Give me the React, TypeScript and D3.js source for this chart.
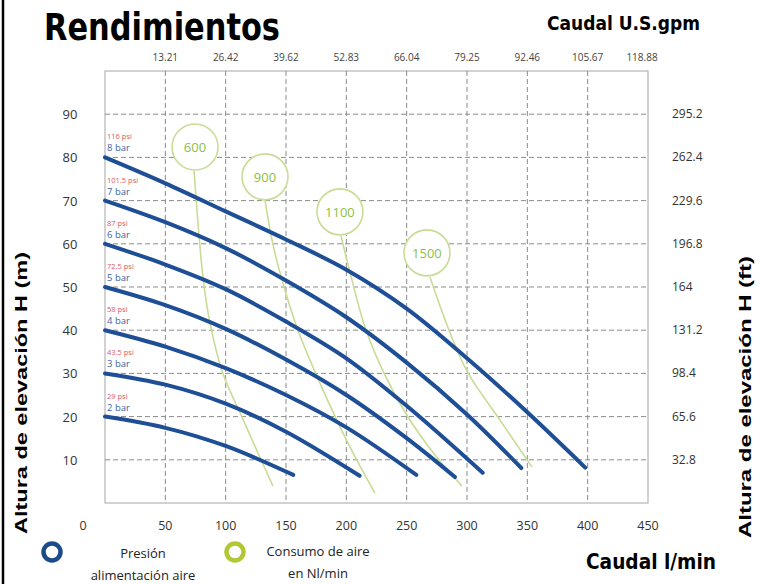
import React from 'react';
import * as d3 from 'd3';

// axis ticks
const flowTicks = [0, 50, 100, 150, 200, 250, 300, 350, 400, 450];
const gpmTicks = [50, 100, 150, 200, 250, 300, 350, 400, 450];
const gpmLabels = ['13.21', '26.42', '39.62', '52.83', '66.04', '79.25', '92.46', '105.67', '118.88'];
const headTicks = [10, 20, 30, 40, 50, 60, 70, 80, 90];
const headFtLabels = ['32.8', '65.6', '98.4', '131.2', '164', '196.8', '229.6', '262.4', '295.2'];

// pressure curves [l/min, m]
const pressureBar = ['8 bar', '7 bar', '6 bar', '5 bar', '4 bar', '3 bar', '2 bar'];
const pressurePsi = ['116 psi', '101.5 psi', '87 psi', '72.5 psi', '58 psi', '43.5 psi', '29 psi'];
const bar8 = [[0, 80], [50, 74], [100, 67.5], [150, 61], [200, 54], [250, 45], [300, 33.5], [350, 21], [398, 8.2]];
const bar7 = [[0, 70], [50, 65], [100, 59], [150, 51.5], [200, 43], [250, 32.5], [300, 20.5], [345, 8.1]];
const bar6 = [[0, 60], [50, 55.2], [100, 49.5], [150, 42], [200, 33.5], [250, 22.5], [313, 7]];
const bar5 = [[0, 50], [50, 45.8], [100, 40.3], [150, 33.2], [200, 25], [250, 15], [290, 6]];
const bar4 = [[0, 40], [50, 36.2], [100, 31.2], [150, 25], [200, 17.5], [258, 6.5]];
const bar3 = [[0, 30], [50, 27.4], [100, 23], [150, 16.5], [211, 6.3]];
const bar2 = [[0, 20], [50, 17.4], [100, 13.2], [156, 6.5]];
const pressureCurves = [bar8, bar7, bar6, bar5, bar4, bar3, bar2];

// air consumption curves (Nl/min)
const airLabels = ['600', '900', '1100', '1500'];
const airBubbles = [[74.6, 82.4], [132.6, 75.5], [194.7, 67.4], [266.8, 57.9]];
const air600 = [[73.8, 76.9], [81.2, 52.3], [87, 41.7], [97.8, 29.9], [113.5, 19.9], [128.4, 10.6], [139.2, 3.9]];
const air900 = [[132.6, 70.1], [138.4, 60.9], [146.7, 51.6], [159.9, 40], [180.6, 26.2], [203, 13], [223.7, 2.3]];
const air1100 = [[195.6, 61.8], [204.7, 51.6], [215.5, 40.7], [232, 29.6], [251.1, 19.9], [273.5, 11.1], [295.9, 3.9]];
const air1500 = [[269.3, 52.3], [285.9, 39.4], [300.8, 30.1], [327.3, 19.2], [353.9, 8.3]];
const airCurves = [air600, air900, air1100, air1500];

const W = 763;
const H = 584;
const x = d3.scaleLinear().domain([0, 450]).range([105, 648]);
const y = d3.scaleLinear().domain([0, 100]).range([503, 71]);

const smoothLine = d3
  .line<number[]>()
  .x(d => x(d[0]))
  .y(d => y(d[1]))
  .curve(d3.curveCatmullRom.alpha(0.5));

const BLUE = '#1e4f96';
const GREEN_LINE = '#c9dc95';
const GREEN_TEXT = '#8cc043';
const GRID = '#8a8a8a';
const num = "'Open Sans', 'DejaVu Sans', sans-serif";
const cond = "'Liberation Sans Narrow', 'DejaVu Sans Condensed', sans-serif";
const bold = "'Liberation Sans', Arial, sans-serif";

export default function App() {
  return (
    <svg
      width={W}
      height={H}
      style={{ position: 'absolute', left: 0, top: 0, background: '#fff' }}
    >
      <rect x={0} y={0} width={W} height={H} fill="#fff" />
      <line x1={3} x2={3} y1={0} y2={H} stroke="#000" strokeWidth={2.5} />

      {/* titles */}
      <text x={44} y={40} fontFamily={cond} fontWeight="bold" fontSize={37} textLength={236} lengthAdjust="spacingAndGlyphs">
        Rendimientos
      </text>
      <text x={547} y={30} fontFamily={cond} fontWeight="bold" fontSize={19} textLength={153} lengthAdjust="spacingAndGlyphs">
        Caudal U.S.gpm
      </text>
      <text x={586} y={569} fontFamily={cond} fontWeight="bold" fontSize={22} textLength={130} lengthAdjust="spacingAndGlyphs">
        Caudal l/min
      </text>

      {/* frame */}
      <rect x={x(0)} y={y(100)} width={x(450) - x(0)} height={y(0) - y(100)} fill="none" stroke="#b5b5b5" strokeWidth={1.2} />

      {/* grid */}
      {gpmTicks.slice(0, -1).map(q => (
        <line key={'gx' + q} x1={x(q)} x2={x(q)} y1={y(100)} y2={y(0)} stroke={GRID} strokeWidth={1} strokeDasharray="5,3" />
      ))}
      {headTicks.map(h => (
        <line key={'gy' + h} x1={x(0)} x2={x(450)} y1={y(h)} y2={y(h)} stroke={GRID} strokeWidth={1} strokeDasharray="5,3" />
      ))}

      {/* axis labels */}
      {flowTicks.map(q => (
        <text key={'bx' + q} x={q === 0 ? x(q) - 22 : x(q)} y={530} textAnchor="middle" fontFamily={num} fontSize={12.5} fill="#333">
          {q}
        </text>
      ))}
      {gpmTicks.map((q, i) => (
        <text key={'tx' + q} x={i === gpmTicks.length - 1 ? x(q) - 6 : x(q)} y={61} textAnchor="middle" fontFamily={num} fontSize={10} fill="#444">
          {gpmLabels[i]}
        </text>
      ))}
      {headTicks.map(h => (
        <text key={'ly' + h} x={70} y={y(h) + 5} textAnchor="middle" fontFamily={num} fontSize={13} fill="#333">
          {h}
        </text>
      ))}
      {headTicks.map((h, i) => (
        <text key={'ry' + h} x={672} y={y(h) + 4} fontFamily={num} fontSize={12} fill="#333">
          {headFtLabels[i]}
        </text>
      ))}
      <text transform="translate(27,393) rotate(-90)" textAnchor="middle" fontFamily={bold} fontWeight="bold" fontSize={17} textLength={282} lengthAdjust="spacingAndGlyphs">
        Altura de elevación H (m)
      </text>
      <text transform="translate(751,397) rotate(-90)" textAnchor="middle" fontFamily={bold} fontWeight="bold" fontSize={17} textLength={282} lengthAdjust="spacingAndGlyphs">
        Altura de elevación H (ft)
      </text>

      {/* air consumption */}
      {airCurves.map((c, i) => (
        <path key={'ac' + i} d={smoothLine(c) || ''} fill="none" stroke={GREEN_LINE} strokeWidth={1.6} />
      ))}
      {airBubbles.map((b, i) => (
        <g key={'ab' + i}>
          <circle cx={x(b[0])} cy={y(b[1])} r={23} fill="#fff" stroke={GREEN_LINE} strokeWidth={1.6} />
          <text x={x(b[0])} y={y(b[1]) + 5} textAnchor="middle" fontFamily={num} fontSize={13} fill={GREEN_TEXT}>
            {airLabels[i]}
          </text>
        </g>
      ))}

      {/* pressure curves */}
      {pressureCurves.map((c, i) => (
        <g key={'pc' + i}>
          <path d={smoothLine(c) || ''} fill="none" stroke={BLUE} strokeWidth={4} strokeLinecap="round" />
          <text x={x(0) + 2} y={y(c[0][1]) - 18} fontFamily={num} fontSize={7.5} fill="#e0585e">
            {pressurePsi[i]}
          </text>
          <text x={x(0) + 2} y={y(c[0][1]) - 6} fontFamily={num} fontSize={9.5} fill="#3e62a6">
            {pressureBar[i]}
          </text>
        </g>
      ))}

      {/* legend */}
      <circle cx={52} cy={552} r={8.5} fill="none" stroke="#1d4b8a" strokeWidth={4.5} />
      <text x={143} y={558} textAnchor="middle" fontFamily={num} fontSize={13} fill="#222">Presión</text>
      <text x={143} y={580} textAnchor="middle" fontFamily={num} fontSize={13} fill="#222">alimentación aire</text>
      <circle cx={235} cy={552} r={8.5} fill="none" stroke="#b3c732" strokeWidth={4.5} />
      <text x={318} y={556} textAnchor="middle" fontFamily={num} fontSize={13} fill="#222">Consumo de aire</text>
      <text x={318} y={578} textAnchor="middle" fontFamily={num} fontSize={13} fill="#222">en Nl/min</text>
    </svg>
  );
}
